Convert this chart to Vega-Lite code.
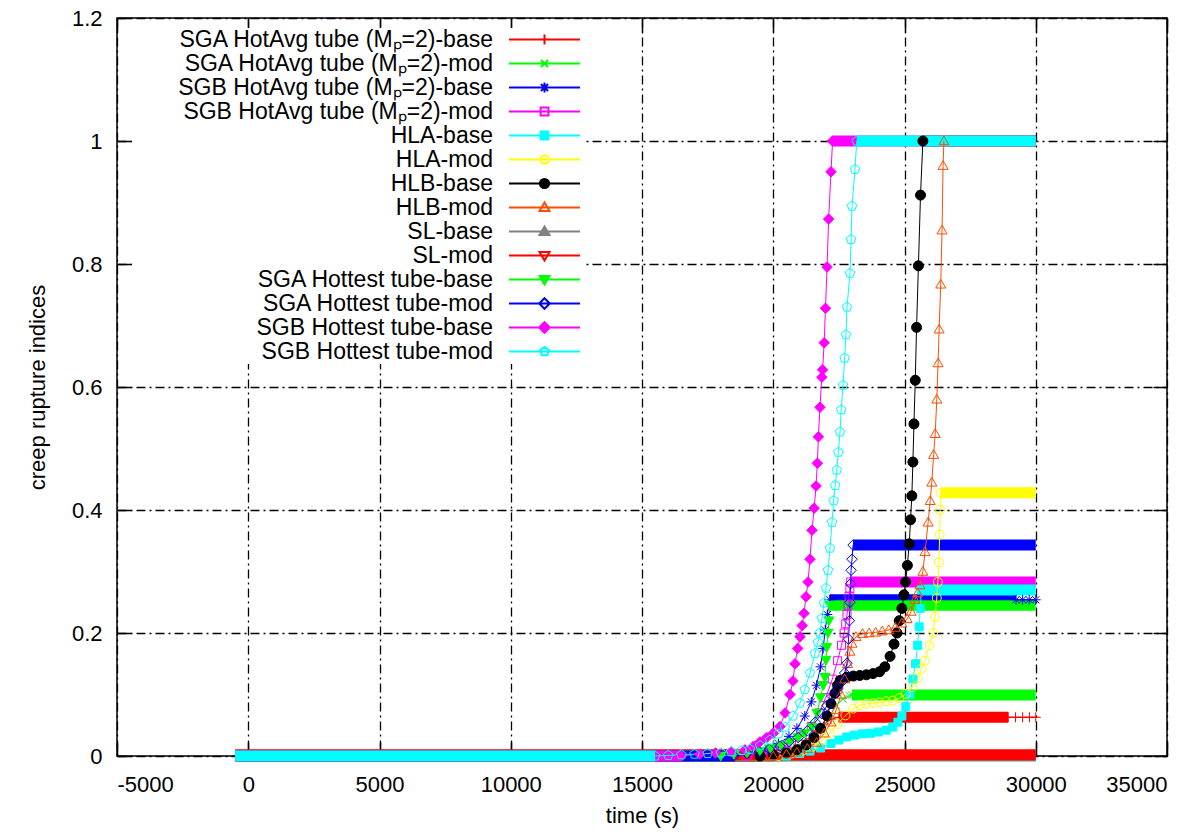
{
  "$schema": "https://vega.github.io/schema/vega-lite/v6.json",
  "width": 1050,
  "height": 738,
  "autosize": {"type": "none"},
  "padding": {"left": 117, "top": 18, "right": 37, "bottom": 76},
  "background": "white",
  "datasets": {
    "bands": [
      {"s": "SGA HotAvg tube (Mₚ=2)-base", "t0": -500, "t1": 19500, "v": 0},
      {"s": "SGA HotAvg tube (Mₚ=2)-base", "t0": 22500, "t1": 28950, "v": 0.063},
      {"s": "SGA HotAvg tube (Mₚ=2)-mod", "t0": -500, "t1": 19600, "v": 0},
      {"s": "SGA HotAvg tube (Mₚ=2)-mod", "t0": 23000, "t1": 30000, "v": 0.099},
      {"s": "SGB HotAvg tube (Mₚ=2)-base", "t0": -500, "t1": 18500, "v": 0},
      {"s": "SGB HotAvg tube (Mₚ=2)-base", "t0": 22150, "t1": 29250, "v": 0.254},
      {"s": "SGB HotAvg tube (Mₚ=2)-mod", "t0": -500, "t1": 19000, "v": 0},
      {"s": "SGB HotAvg tube (Mₚ=2)-mod", "t0": 22950, "t1": 30000, "v": 0.283},
      {"s": "HLA-base", "t0": -500, "t1": 20500, "v": 0},
      {"s": "HLA-base", "t0": 25640, "t1": 30000, "v": 0.27},
      {"s": "HLA-mod", "t0": -500, "t1": 20200, "v": 0},
      {"s": "HLA-mod", "t0": 26380, "t1": 30000, "v": 0.428},
      {"s": "HLB-base", "t0": -500, "t1": 19500, "v": 0},
      {"s": "HLB-base", "t0": 25700, "t1": 30000, "v": 1},
      {"s": "HLB-mod", "t0": -500, "t1": 20000, "v": 0},
      {"s": "HLB-mod", "t0": 26500, "t1": 30000, "v": 1},
      {"s": "SL-base", "t0": -500, "t1": 30000, "v": 0},
      {"s": "SL-mod", "t0": -500, "t1": 30000, "v": 0.002},
      {"s": "SGA Hottest tube-base", "t0": -500, "t1": 18000, "v": 0},
      {"s": "SGA Hottest tube-base", "t0": 22162, "t1": 30000, "v": 0.245},
      {"s": "SGA Hottest tube-mod", "t0": -500, "t1": 18500, "v": 0},
      {"s": "SGA Hottest tube-mod", "t0": 23040, "t1": 30000, "v": 0.343},
      {"s": "SGB Hottest tube-base", "t0": -500, "t1": 16500, "v": 0},
      {"s": "SGB Hottest tube-base", "t0": 22260, "t1": 30000, "v": 1},
      {"s": "SGB Hottest tube-mod", "t0": -500, "t1": 15500, "v": 0},
      {"s": "SGB Hottest tube-mod", "t0": 23180, "t1": 30000, "v": 1}
    ],
    "pts": [
      {"s": "SGA HotAvg tube (Mₚ=2)-base", "t": 19500, "v": 0},
      {"s": "SGA HotAvg tube (Mₚ=2)-base", "t": 20000, "v": 0.003},
      {"s": "SGA HotAvg tube (Mₚ=2)-base", "t": 20400, "v": 0.006},
      {"s": "SGA HotAvg tube (Mₚ=2)-base", "t": 20800, "v": 0.012},
      {"s": "SGA HotAvg tube (Mₚ=2)-base", "t": 21100, "v": 0.019},
      {"s": "SGA HotAvg tube (Mₚ=2)-base", "t": 21400, "v": 0.028},
      {"s": "SGA HotAvg tube (Mₚ=2)-base", "t": 21700, "v": 0.04},
      {"s": "SGA HotAvg tube (Mₚ=2)-base", "t": 21950, "v": 0.052},
      {"s": "SGA HotAvg tube (Mₚ=2)-base", "t": 22200, "v": 0.06},
      {"s": "SGA HotAvg tube (Mₚ=2)-base", "t": 22500, "v": 0.063},
      {"s": "SGA HotAvg tube (Mₚ=2)-base", "t": 28950, "v": 0.063},
      {"s": "SGA HotAvg tube (Mₚ=2)-base", "t": 29230, "v": 0.063},
      {"s": "SGA HotAvg tube (Mₚ=2)-base", "t": 29500, "v": 0.063},
      {"s": "SGA HotAvg tube (Mₚ=2)-base", "t": 29760, "v": 0.063},
      {"s": "SGA HotAvg tube (Mₚ=2)-base", "t": 30000, "v": 0.063},

      {"s": "SGA HotAvg tube (Mₚ=2)-mod", "t": 19600, "v": 0},
      {"s": "SGA HotAvg tube (Mₚ=2)-mod", "t": 20100, "v": 0.003},
      {"s": "SGA HotAvg tube (Mₚ=2)-mod", "t": 20500, "v": 0.007},
      {"s": "SGA HotAvg tube (Mₚ=2)-mod", "t": 20900, "v": 0.013},
      {"s": "SGA HotAvg tube (Mₚ=2)-mod", "t": 21300, "v": 0.022},
      {"s": "SGA HotAvg tube (Mₚ=2)-mod", "t": 21600, "v": 0.032},
      {"s": "SGA HotAvg tube (Mₚ=2)-mod", "t": 21900, "v": 0.047},
      {"s": "SGA HotAvg tube (Mₚ=2)-mod", "t": 22150, "v": 0.065},
      {"s": "SGA HotAvg tube (Mₚ=2)-mod", "t": 22400, "v": 0.082},
      {"s": "SGA HotAvg tube (Mₚ=2)-mod", "t": 22650, "v": 0.093},
      {"s": "SGA HotAvg tube (Mₚ=2)-mod", "t": 22900, "v": 0.098},
      {"s": "SGA HotAvg tube (Mₚ=2)-mod", "t": 23000, "v": 0.099},

      {"s": "SGB HotAvg tube (Mₚ=2)-base", "t": 18500, "v": 0},
      {"s": "SGB HotAvg tube (Mₚ=2)-base", "t": 19000, "v": 0.004},
      {"s": "SGB HotAvg tube (Mₚ=2)-base", "t": 19400, "v": 0.007},
      {"s": "SGB HotAvg tube (Mₚ=2)-base", "t": 19800, "v": 0.012},
      {"s": "SGB HotAvg tube (Mₚ=2)-base", "t": 20200, "v": 0.02},
      {"s": "SGB HotAvg tube (Mₚ=2)-base", "t": 20600, "v": 0.032},
      {"s": "SGB HotAvg tube (Mₚ=2)-base", "t": 20900, "v": 0.045},
      {"s": "SGB HotAvg tube (Mₚ=2)-base", "t": 21200, "v": 0.065},
      {"s": "SGB HotAvg tube (Mₚ=2)-base", "t": 21450, "v": 0.088},
      {"s": "SGB HotAvg tube (Mₚ=2)-base", "t": 21650, "v": 0.115},
      {"s": "SGB HotAvg tube (Mₚ=2)-base", "t": 21800, "v": 0.145},
      {"s": "SGB HotAvg tube (Mₚ=2)-base", "t": 21900, "v": 0.175},
      {"s": "SGB HotAvg tube (Mₚ=2)-base", "t": 21980, "v": 0.205},
      {"s": "SGB HotAvg tube (Mₚ=2)-base", "t": 22060, "v": 0.23},
      {"s": "SGB HotAvg tube (Mₚ=2)-base", "t": 22150, "v": 0.254},
      {"s": "SGB HotAvg tube (Mₚ=2)-base", "t": 29250, "v": 0.254},
      {"s": "SGB HotAvg tube (Mₚ=2)-base", "t": 29500, "v": 0.254},
      {"s": "SGB HotAvg tube (Mₚ=2)-base", "t": 29750, "v": 0.254},
      {"s": "SGB HotAvg tube (Mₚ=2)-base", "t": 30000, "v": 0.254},

      {"s": "SGB HotAvg tube (Mₚ=2)-mod", "t": 19000, "v": 0},
      {"s": "SGB HotAvg tube (Mₚ=2)-mod", "t": 19500, "v": 0.004},
      {"s": "SGB HotAvg tube (Mₚ=2)-mod", "t": 19900, "v": 0.007},
      {"s": "SGB HotAvg tube (Mₚ=2)-mod", "t": 20300, "v": 0.012},
      {"s": "SGB HotAvg tube (Mₚ=2)-mod", "t": 20700, "v": 0.02},
      {"s": "SGB HotAvg tube (Mₚ=2)-mod", "t": 21100, "v": 0.032},
      {"s": "SGB HotAvg tube (Mₚ=2)-mod", "t": 21450, "v": 0.048},
      {"s": "SGB HotAvg tube (Mₚ=2)-mod", "t": 21750, "v": 0.07},
      {"s": "SGB HotAvg tube (Mₚ=2)-mod", "t": 22000, "v": 0.095},
      {"s": "SGB HotAvg tube (Mₚ=2)-mod", "t": 22250, "v": 0.125},
      {"s": "SGB HotAvg tube (Mₚ=2)-mod", "t": 22450, "v": 0.155},
      {"s": "SGB HotAvg tube (Mₚ=2)-mod", "t": 22600, "v": 0.18},
      {"s": "SGB HotAvg tube (Mₚ=2)-mod", "t": 22700, "v": 0.2},
      {"s": "SGB HotAvg tube (Mₚ=2)-mod", "t": 22760, "v": 0.215},
      {"s": "SGB HotAvg tube (Mₚ=2)-mod", "t": 22810, "v": 0.23},
      {"s": "SGB HotAvg tube (Mₚ=2)-mod", "t": 22850, "v": 0.245},
      {"s": "SGB HotAvg tube (Mₚ=2)-mod", "t": 22890, "v": 0.26},
      {"s": "SGB HotAvg tube (Mₚ=2)-mod", "t": 22920, "v": 0.272},
      {"s": "SGB HotAvg tube (Mₚ=2)-mod", "t": 22950, "v": 0.283},

      {"s": "HLA-base", "t": 20500, "v": 0},
      {"s": "HLA-base", "t": 21000, "v": 0.004},
      {"s": "HLA-base", "t": 21400, "v": 0.008},
      {"s": "HLA-base", "t": 21800, "v": 0.013},
      {"s": "HLA-base", "t": 22200, "v": 0.02},
      {"s": "HLA-base", "t": 22500, "v": 0.026},
      {"s": "HLA-base", "t": 22800, "v": 0.031},
      {"s": "HLA-base", "t": 23100, "v": 0.034},
      {"s": "HLA-base", "t": 23400, "v": 0.036},
      {"s": "HLA-base", "t": 23700, "v": 0.037},
      {"s": "HLA-base", "t": 24000, "v": 0.039},
      {"s": "HLA-base", "t": 24300, "v": 0.042},
      {"s": "HLA-base", "t": 24550, "v": 0.047},
      {"s": "HLA-base", "t": 24750, "v": 0.055},
      {"s": "HLA-base", "t": 24900, "v": 0.065},
      {"s": "HLA-base", "t": 25050, "v": 0.08},
      {"s": "HLA-base", "t": 25200, "v": 0.1},
      {"s": "HLA-base", "t": 25320, "v": 0.125},
      {"s": "HLA-base", "t": 25420, "v": 0.15},
      {"s": "HLA-base", "t": 25500, "v": 0.18},
      {"s": "HLA-base", "t": 25560, "v": 0.21},
      {"s": "HLA-base", "t": 25600, "v": 0.24},
      {"s": "HLA-base", "t": 25640, "v": 0.27},

      {"s": "HLA-mod", "t": 20200, "v": 0},
      {"s": "HLA-mod", "t": 20700, "v": 0.004},
      {"s": "HLA-mod", "t": 21100, "v": 0.008},
      {"s": "HLA-mod", "t": 21500, "v": 0.015},
      {"s": "HLA-mod", "t": 21850, "v": 0.025},
      {"s": "HLA-mod", "t": 22150, "v": 0.037},
      {"s": "HLA-mod", "t": 22450, "v": 0.052},
      {"s": "HLA-mod", "t": 22750, "v": 0.066},
      {"s": "HLA-mod", "t": 23050, "v": 0.077},
      {"s": "HLA-mod", "t": 23300, "v": 0.083},
      {"s": "HLA-mod", "t": 23550, "v": 0.085},
      {"s": "HLA-mod", "t": 23800, "v": 0.086},
      {"s": "HLA-mod", "t": 24050, "v": 0.087},
      {"s": "HLA-mod", "t": 24300, "v": 0.089},
      {"s": "HLA-mod", "t": 24550, "v": 0.09},
      {"s": "HLA-mod", "t": 24800, "v": 0.094},
      {"s": "HLA-mod", "t": 25050, "v": 0.101},
      {"s": "HLA-mod", "t": 25300, "v": 0.112},
      {"s": "HLA-mod", "t": 25500, "v": 0.127},
      {"s": "HLA-mod", "t": 25650, "v": 0.142},
      {"s": "HLA-mod", "t": 25780, "v": 0.155},
      {"s": "HLA-mod", "t": 25950, "v": 0.18},
      {"s": "HLA-mod", "t": 26090, "v": 0.2},
      {"s": "HLA-mod", "t": 26160, "v": 0.226},
      {"s": "HLA-mod", "t": 26230, "v": 0.257},
      {"s": "HLA-mod", "t": 26270, "v": 0.283},
      {"s": "HLA-mod", "t": 26310, "v": 0.315},
      {"s": "HLA-mod", "t": 26340, "v": 0.36},
      {"s": "HLA-mod", "t": 26360, "v": 0.4},
      {"s": "HLA-mod", "t": 26380, "v": 0.428},

      {"s": "HLB-base", "t": 19500, "v": 0},
      {"s": "HLB-base", "t": 20000, "v": 0.002},
      {"s": "HLB-base", "t": 20500, "v": 0.005},
      {"s": "HLB-base", "t": 20900, "v": 0.01},
      {"s": "HLB-base", "t": 21250, "v": 0.018},
      {"s": "HLB-base", "t": 21550, "v": 0.03},
      {"s": "HLB-base", "t": 21800, "v": 0.045},
      {"s": "HLB-base", "t": 22050, "v": 0.065},
      {"s": "HLB-base", "t": 22200, "v": 0.085},
      {"s": "HLB-base", "t": 22350, "v": 0.102},
      {"s": "HLB-base", "t": 22450, "v": 0.115},
      {"s": "HLB-base", "t": 22550, "v": 0.123},
      {"s": "HLB-base", "t": 22800, "v": 0.128},
      {"s": "HLB-base", "t": 23050, "v": 0.13},
      {"s": "HLB-base", "t": 23300, "v": 0.131},
      {"s": "HLB-base", "t": 23550, "v": 0.132},
      {"s": "HLB-base", "t": 23800, "v": 0.134},
      {"s": "HLB-base", "t": 24050, "v": 0.137},
      {"s": "HLB-base", "t": 24250, "v": 0.145},
      {"s": "HLB-base", "t": 24450, "v": 0.162},
      {"s": "HLB-base", "t": 24600, "v": 0.182},
      {"s": "HLB-base", "t": 24714, "v": 0.2},
      {"s": "HLB-base", "t": 24800, "v": 0.22},
      {"s": "HLB-base", "t": 24900, "v": 0.24},
      {"s": "HLB-base", "t": 24980, "v": 0.262},
      {"s": "HLB-base", "t": 25040, "v": 0.283},
      {"s": "HLB-base", "t": 25110, "v": 0.31},
      {"s": "HLB-base", "t": 25180, "v": 0.345},
      {"s": "HLB-base", "t": 25230, "v": 0.384},
      {"s": "HLB-base", "t": 25280, "v": 0.423},
      {"s": "HLB-base", "t": 25320, "v": 0.478},
      {"s": "HLB-base", "t": 25360, "v": 0.54},
      {"s": "HLB-base", "t": 25410, "v": 0.611},
      {"s": "HLB-base", "t": 25460, "v": 0.697},
      {"s": "HLB-base", "t": 25530, "v": 0.797},
      {"s": "HLB-base", "t": 25610, "v": 0.912},
      {"s": "HLB-base", "t": 25700, "v": 1},

      {"s": "HLB-mod", "t": 20000, "v": 0},
      {"s": "HLB-mod", "t": 20500, "v": 0.003},
      {"s": "HLB-mod", "t": 20900, "v": 0.006},
      {"s": "HLB-mod", "t": 21300, "v": 0.012},
      {"s": "HLB-mod", "t": 21650, "v": 0.022},
      {"s": "HLB-mod", "t": 21950, "v": 0.037},
      {"s": "HLB-mod", "t": 22200, "v": 0.055},
      {"s": "HLB-mod", "t": 22400, "v": 0.075},
      {"s": "HLB-mod", "t": 22580, "v": 0.1},
      {"s": "HLB-mod", "t": 22720, "v": 0.125},
      {"s": "HLB-mod", "t": 22830, "v": 0.15},
      {"s": "HLB-mod", "t": 22920, "v": 0.17},
      {"s": "HLB-mod", "t": 23000, "v": 0.183},
      {"s": "HLB-mod", "t": 23150, "v": 0.194},
      {"s": "HLB-mod", "t": 23400, "v": 0.199},
      {"s": "HLB-mod", "t": 23650, "v": 0.2},
      {"s": "HLB-mod", "t": 23900, "v": 0.201},
      {"s": "HLB-mod", "t": 24150, "v": 0.203},
      {"s": "HLB-mod", "t": 24400, "v": 0.205},
      {"s": "HLB-mod", "t": 24650, "v": 0.209},
      {"s": "HLB-mod", "t": 24900, "v": 0.216},
      {"s": "HLB-mod", "t": 25100, "v": 0.223},
      {"s": "HLB-mod", "t": 25250, "v": 0.235},
      {"s": "HLB-mod", "t": 25400, "v": 0.254},
      {"s": "HLB-mod", "t": 25500, "v": 0.265},
      {"s": "HLB-mod", "t": 25590, "v": 0.278},
      {"s": "HLB-mod", "t": 25700, "v": 0.3},
      {"s": "HLB-mod", "t": 25781, "v": 0.332},
      {"s": "HLB-mod", "t": 25900, "v": 0.38},
      {"s": "HLB-mod", "t": 25980, "v": 0.415},
      {"s": "HLB-mod", "t": 26040, "v": 0.445},
      {"s": "HLB-mod", "t": 26110, "v": 0.49},
      {"s": "HLB-mod", "t": 26170, "v": 0.524},
      {"s": "HLB-mod", "t": 26230, "v": 0.58},
      {"s": "HLB-mod", "t": 26280, "v": 0.639},
      {"s": "HLB-mod", "t": 26320, "v": 0.694},
      {"s": "HLB-mod", "t": 26380, "v": 0.767},
      {"s": "HLB-mod", "t": 26430, "v": 0.855},
      {"s": "HLB-mod", "t": 26470, "v": 0.96},
      {"s": "HLB-mod", "t": 26500, "v": 1},

      {"s": "SGA Hottest tube-base", "t": 18000, "v": 0},
      {"s": "SGA Hottest tube-base", "t": 18500, "v": 0.003},
      {"s": "SGA Hottest tube-base", "t": 19000, "v": 0.005},
      {"s": "SGA Hottest tube-base", "t": 19500, "v": 0.008},
      {"s": "SGA Hottest tube-base", "t": 19900, "v": 0.012},
      {"s": "SGA Hottest tube-base", "t": 20300, "v": 0.017},
      {"s": "SGA Hottest tube-base", "t": 20650, "v": 0.023},
      {"s": "SGA Hottest tube-base", "t": 20950, "v": 0.03},
      {"s": "SGA Hottest tube-base", "t": 21200, "v": 0.037},
      {"s": "SGA Hottest tube-base", "t": 21476, "v": 0.047},
      {"s": "SGA Hottest tube-base", "t": 21667, "v": 0.07},
      {"s": "SGA Hottest tube-base", "t": 21800, "v": 0.095},
      {"s": "SGA Hottest tube-base", "t": 21900, "v": 0.115},
      {"s": "SGA Hottest tube-base", "t": 21971, "v": 0.128},
      {"s": "SGA Hottest tube-base", "t": 22010, "v": 0.156},
      {"s": "SGA Hottest tube-base", "t": 22040, "v": 0.177},
      {"s": "SGA Hottest tube-base", "t": 22086, "v": 0.2},
      {"s": "SGA Hottest tube-base", "t": 22120, "v": 0.22},
      {"s": "SGA Hottest tube-base", "t": 22162, "v": 0.245},

      {"s": "SGA Hottest tube-mod", "t": 18500, "v": 0},
      {"s": "SGA Hottest tube-mod", "t": 19000, "v": 0.004},
      {"s": "SGA Hottest tube-mod", "t": 19450, "v": 0.007},
      {"s": "SGA Hottest tube-mod", "t": 19850, "v": 0.011},
      {"s": "SGA Hottest tube-mod", "t": 20250, "v": 0.016},
      {"s": "SGA Hottest tube-mod", "t": 20600, "v": 0.023},
      {"s": "SGA Hottest tube-mod", "t": 20950, "v": 0.03},
      {"s": "SGA Hottest tube-mod", "t": 21300, "v": 0.041},
      {"s": "SGA Hottest tube-mod", "t": 21600, "v": 0.055},
      {"s": "SGA Hottest tube-mod", "t": 21850, "v": 0.069},
      {"s": "SGA Hottest tube-mod", "t": 22050, "v": 0.082},
      {"s": "SGA Hottest tube-mod", "t": 22250, "v": 0.097},
      {"s": "SGA Hottest tube-mod", "t": 22450, "v": 0.11},
      {"s": "SGA Hottest tube-mod", "t": 22600, "v": 0.12},
      {"s": "SGA Hottest tube-mod", "t": 22720, "v": 0.135},
      {"s": "SGA Hottest tube-mod", "t": 22810, "v": 0.151},
      {"s": "SGA Hottest tube-mod", "t": 22870, "v": 0.19},
      {"s": "SGA Hottest tube-mod", "t": 22900, "v": 0.22},
      {"s": "SGA Hottest tube-mod", "t": 22924, "v": 0.25},
      {"s": "SGA Hottest tube-mod", "t": 22945, "v": 0.28},
      {"s": "SGA Hottest tube-mod", "t": 22965, "v": 0.302},
      {"s": "SGA Hottest tube-mod", "t": 23000, "v": 0.32},
      {"s": "SGA Hottest tube-mod", "t": 23040, "v": 0.343},

      {"s": "SGB Hottest tube-base", "t": 16500, "v": 0},
      {"s": "SGB Hottest tube-base", "t": 17200, "v": 0.003},
      {"s": "SGB Hottest tube-base", "t": 17800, "v": 0.005},
      {"s": "SGB Hottest tube-base", "t": 18400, "v": 0.007},
      {"s": "SGB Hottest tube-base", "t": 18924, "v": 0.01},
      {"s": "SGB Hottest tube-base", "t": 19250, "v": 0.016},
      {"s": "SGB Hottest tube-base", "t": 19495, "v": 0.023},
      {"s": "SGB Hottest tube-base", "t": 19750, "v": 0.03},
      {"s": "SGB Hottest tube-base", "t": 20000, "v": 0.037},
      {"s": "SGB Hottest tube-base", "t": 20257, "v": 0.048},
      {"s": "SGB Hottest tube-base", "t": 20450, "v": 0.07},
      {"s": "SGB Hottest tube-base", "t": 20638, "v": 0.1},
      {"s": "SGB Hottest tube-base", "t": 20750, "v": 0.122},
      {"s": "SGB Hottest tube-base", "t": 20829, "v": 0.15},
      {"s": "SGB Hottest tube-base", "t": 20930, "v": 0.175},
      {"s": "SGB Hottest tube-base", "t": 21019, "v": 0.194},
      {"s": "SGB Hottest tube-base", "t": 21100, "v": 0.212},
      {"s": "SGB Hottest tube-base", "t": 21171, "v": 0.232},
      {"s": "SGB Hottest tube-base", "t": 21248, "v": 0.259},
      {"s": "SGB Hottest tube-base", "t": 21324, "v": 0.283},
      {"s": "SGB Hottest tube-base", "t": 21400, "v": 0.32},
      {"s": "SGB Hottest tube-base", "t": 21476, "v": 0.367},
      {"s": "SGB Hottest tube-base", "t": 21560, "v": 0.403},
      {"s": "SGB Hottest tube-base", "t": 21630, "v": 0.439},
      {"s": "SGB Hottest tube-base", "t": 21680, "v": 0.476},
      {"s": "SGB Hottest tube-base", "t": 21720, "v": 0.519},
      {"s": "SGB Hottest tube-base", "t": 21780, "v": 0.567},
      {"s": "SGB Hottest tube-base", "t": 21850, "v": 0.616},
      {"s": "SGB Hottest tube-base", "t": 21880, "v": 0.628},
      {"s": "SGB Hottest tube-base", "t": 21940, "v": 0.672},
      {"s": "SGB Hottest tube-base", "t": 21990, "v": 0.728},
      {"s": "SGB Hottest tube-base", "t": 22050, "v": 0.795},
      {"s": "SGB Hottest tube-base", "t": 22110, "v": 0.873},
      {"s": "SGB Hottest tube-base", "t": 22200, "v": 0.95},
      {"s": "SGB Hottest tube-base", "t": 22260, "v": 1},

      {"s": "SGB Hottest tube-mod", "t": 15500, "v": 0},
      {"s": "SGB Hottest tube-mod", "t": 16000, "v": 0.001},
      {"s": "SGB Hottest tube-mod", "t": 16500, "v": 0.002},
      {"s": "SGB Hottest tube-mod", "t": 17000, "v": 0.003},
      {"s": "SGB Hottest tube-mod", "t": 17500, "v": 0.004},
      {"s": "SGB Hottest tube-mod", "t": 18000, "v": 0.005},
      {"s": "SGB Hottest tube-mod", "t": 18400, "v": 0.007},
      {"s": "SGB Hottest tube-mod", "t": 18800, "v": 0.009},
      {"s": "SGB Hottest tube-mod", "t": 19114, "v": 0.011},
      {"s": "SGB Hottest tube-mod", "t": 19500, "v": 0.017},
      {"s": "SGB Hottest tube-mod", "t": 19876, "v": 0.026},
      {"s": "SGB Hottest tube-mod", "t": 20200, "v": 0.036},
      {"s": "SGB Hottest tube-mod", "t": 20448, "v": 0.047},
      {"s": "SGB Hottest tube-mod", "t": 20750, "v": 0.065},
      {"s": "SGB Hottest tube-mod", "t": 21019, "v": 0.086},
      {"s": "SGB Hottest tube-mod", "t": 21200, "v": 0.108},
      {"s": "SGB Hottest tube-mod", "t": 21400, "v": 0.135},
      {"s": "SGB Hottest tube-mod", "t": 21590, "v": 0.167},
      {"s": "SGB Hottest tube-mod", "t": 21700, "v": 0.185},
      {"s": "SGB Hottest tube-mod", "t": 21781, "v": 0.2},
      {"s": "SGB Hottest tube-mod", "t": 21857, "v": 0.224},
      {"s": "SGB Hottest tube-mod", "t": 21933, "v": 0.249},
      {"s": "SGB Hottest tube-mod", "t": 22010, "v": 0.273},
      {"s": "SGB Hottest tube-mod", "t": 22086, "v": 0.302},
      {"s": "SGB Hottest tube-mod", "t": 22162, "v": 0.338},
      {"s": "SGB Hottest tube-mod", "t": 22238, "v": 0.38},
      {"s": "SGB Hottest tube-mod", "t": 22300, "v": 0.415},
      {"s": "SGB Hottest tube-mod", "t": 22360, "v": 0.44},
      {"s": "SGB Hottest tube-mod", "t": 22420, "v": 0.465},
      {"s": "SGB Hottest tube-mod", "t": 22480, "v": 0.494},
      {"s": "SGB Hottest tube-mod", "t": 22543, "v": 0.527},
      {"s": "SGB Hottest tube-mod", "t": 22590, "v": 0.563},
      {"s": "SGB Hottest tube-mod", "t": 22657, "v": 0.603},
      {"s": "SGB Hottest tube-mod", "t": 22720, "v": 0.647},
      {"s": "SGB Hottest tube-mod", "t": 22770, "v": 0.685},
      {"s": "SGB Hottest tube-mod", "t": 22810, "v": 0.73},
      {"s": "SGB Hottest tube-mod", "t": 22924, "v": 0.785},
      {"s": "SGB Hottest tube-mod", "t": 22965, "v": 0.84},
      {"s": "SGB Hottest tube-mod", "t": 23000, "v": 0.894},
      {"s": "SGB Hottest tube-mod", "t": 23114, "v": 0.954},
      {"s": "SGB Hottest tube-mod", "t": 23180, "v": 1}
    ]
  },
  "config": {
    "font": "Liberation Sans",
    "view": {"stroke": "black", "strokeWidth": 1.5},
    "legend": {
      "orient": "none", "legendX": 15, "legendY": 10, "padding": 0, "fillColor": "white",
      "labelFont": "Liberation Sans", "labelFontSize": 23, "labelColor": "black", "labelLimit": 600,
      "symbolSize": 5041, "symbolStrokeWidth": 2, "rowPadding": -0.5
    },
    "axis": {
      "labelFont": "Liberation Sans",
      "labelFontSize": 22,
      "labelColor": "black",
      "titleFont": "Liberation Sans",
      "titleFontSize": 22,
      "titleFontWeight": "normal",
      "titleColor": "black",
      "domain": false,
      "tickColor": "black",
      "tickWidth": 1.5,
      "gridColor": "black",
      "gridOpacity": 1,
      "gridWidth": 1.3,
      "gridDash": [9, 4, 2, 4]
    }
  },
  "resolve": {"axis": {"x": "independent", "y": "independent"}},
  "layer": [
    {
      "data": {"name": "bands"},
      "mark": {"type": "rule", "strokeWidth": 11, "strokeCap": "butt"},
      "encoding": {
        "x": {
          "field": "t0", "type": "quantitative",
          "scale": {"domain": [-5000, 35000], "nice": false, "zero": false},
          "axis": {
            "title": "time (s)", "orient": "bottom",
            "values": [-5000, 0, 5000, 10000, 15000, 20000, 25000, 30000, 35000],
            "labelExpr": "'' + datum.value",
            "grid": true, "tickSize": -14, "labelPadding": 32, "titlePadding": 10
          }
        },
        "x2": {"field": "t1"},
        "y": {
          "field": "v", "type": "quantitative",
          "scale": {"domain": [0, 1.2], "nice": false, "zero": false},
          "axis": {
            "title": "creep rupture indices", "orient": "left",
            "values": [0, 0.2, 0.4, 0.6, 0.8, 1, 1.2],
            "labelExpr": "'' + datum.value",
            "grid": true, "tickSize": -14, "labelPadding": 29, "titlePadding": 22
          }
        },
        "stroke": {
          "field": "s", "type": "nominal",
          "scale": {
            "domain": ["SGA HotAvg tube (Mₚ=2)-base", "SGA HotAvg tube (Mₚ=2)-mod", "SGB HotAvg tube (Mₚ=2)-base", "SGB HotAvg tube (Mₚ=2)-mod", "HLA-base", "HLA-mod", "HLB-base", "HLB-mod", "SL-base", "SL-mod", "SGA Hottest tube-base", "SGA Hottest tube-mod", "SGB Hottest tube-base", "SGB Hottest tube-mod"],
            "range": ["#ff0000", "#00ff00", "#0000ff", "#ff00ff", "#00ffff", "#ffff00", "#000000", "#ff4d00", "#808080", "#ff0000", "#00ff00", "#0000ff", "#ff00ff", "#00ffff"]
          },
          "legend": {
            "title": null, "orient": "none", "legendX": 15, "legendY": 10,
            "encode": {
              "symbols": {"update": {
                "x": {"value": 412.5},
                "y": {"value": 11.5},
                "size": {"value": 5041},
                "strokeWidth": {"value": 2},
                "opacity": {"value": 1},
                "fill": {"signal": "['transparent','transparent','transparent','transparent','#00ffff','transparent','#000000','transparent','#808080','transparent','#00ff00','transparent','#ff00ff','transparent'][datum.index]"},
                "shape": {"signal": "['M-1,0H1M-0.14,0H0.14M0,-0.14V0.14','M-1,0H1M-0.1,-0.1L0.1,0.1M-0.1,0.1L0.1,-0.1','M-1,0H1M0,-0.14V0.14M-0.1,-0.1L0.1,0.1M-0.1,0.1L0.1,-0.1','M-1,0H1M-0.11,-0.11H0.11V0.11H-0.11Z','M-1,0H1M-0.11,-0.11H0.11V0.11H-0.11Z','M-1,0H1M-0.12,0A0.12,0.12,0,1,1,0.12,0A0.12,0.12,0,1,1,-0.12,0Z','M-1,0H1M-0.13,0A0.13,0.13,0,1,1,0.13,0A0.13,0.13,0,1,1,-0.13,0Z','M-1,0H1M0,-0.14L0.14,0.1H-0.14Z','M-1,0H1M0,-0.14L0.14,0.1H-0.14Z','M-1,0H1M0,0.14L0.14,-0.1H-0.14Z','M-1,0H1M0,0.14L0.14,-0.1H-0.14Z','M-1,0H1M0,-0.15L0.15,0L0,0.15L-0.15,0Z','M-1,0H1M0,-0.15L0.15,0L0,0.15L-0.15,0Z','M-1,0H1M0,-0.13L0.124,-0.04L0.077,0.105L-0.077,0.105L-0.124,-0.04Z'][datum.index]"}
              }},
              "labels": {"update": {"x": {"value": 361}, "y": {"value": 11.5}, "align": {"value": "right"}, "baseline": {"value": "middle"}}}
            }
          }
        }
      }
    },
    {
      "data": {"name": "pts"},
      "mark": {"type": "line", "strokeWidth": 1},
      "encoding": {
        "x": {
          "field": "t", "type": "quantitative",
          "axis": {
            "orient": "top", "title": null, "labels": false, "grid": false, "tickSize": -14,
            "values": [-5000, 0, 5000, 10000, 15000, 20000, 25000, 30000, 35000]
          }
        },
        "y": {
          "field": "v", "type": "quantitative",
          "axis": {
            "orient": "right", "title": null, "labels": false, "grid": false, "tickSize": -14,
            "values": [0, 0.2, 0.4, 0.6, 0.8, 1, 1.2]
          }
        },
        "stroke": {"field": "s", "type": "nominal"}
      }
    },
    {
      "data": {"name": "pts"},
      "mark": {"type": "point", "size": 100, "strokeWidth": 1, "opacity": 1},
      "encoding": {
        "x": {"field": "t", "type": "quantitative", "axis": null},
        "y": {"field": "v", "type": "quantitative", "axis": null},
        "stroke": {"field": "s", "type": "nominal"},
        "fill": {
          "field": "s", "type": "nominal", "legend": null,
          "scale": {
            "domain": ["SGB Hottest tube-mod", "SGB Hottest tube-base", "SGA Hottest tube-mod", "SGA Hottest tube-base", "SL-mod", "SL-base", "HLB-mod", "HLB-base", "HLA-mod", "HLA-base", "SGB HotAvg tube (Mₚ=2)-mod", "SGB HotAvg tube (Mₚ=2)-base", "SGA HotAvg tube (Mₚ=2)-mod", "SGA HotAvg tube (Mₚ=2)-base"],
            "range": ["transparent", "#ff00ff", "transparent", "#00ff00", "transparent", "#808080", "transparent", "#000000", "transparent", "#00ffff", "transparent", "transparent", "transparent", "transparent"]
          }
        },
        "shape": {
          "field": "s", "type": "nominal", "legend": null,
          "scale": {
            "domain": ["SGB Hottest tube-mod", "SGB Hottest tube-base", "SGA Hottest tube-mod", "SGA Hottest tube-base", "SL-mod", "SL-base", "HLB-mod", "HLB-base", "HLA-mod", "HLA-base", "SGB HotAvg tube (Mₚ=2)-mod", "SGB HotAvg tube (Mₚ=2)-base", "SGA HotAvg tube (Mₚ=2)-mod", "SGA HotAvg tube (Mₚ=2)-base"],
            "range": ["M0,-1L0.95,-0.31L0.59,0.81L-0.59,0.81L-0.95,-0.31Z", "M0,-1.05L1.05,0L0,1.05L-1.05,0Z", "M0,-1.05L1.05,0L0,1.05L-1.05,0Z", "M0,1L1,-0.75H-1Z", "M0,1L1,-0.75H-1Z", "M0,-1L1,0.75H-1Z", "M0,-1L1,0.75H-1Z", "M-1,0A1,1,0,1,1,1,0A1,1,0,1,1,-1,0Z", "M-0.9,0A0.9,0.9,0,1,1,0.9,0A0.9,0.9,0,1,1,-0.9,0Z", "M-0.8,-0.8H0.8V0.8H-0.8Z", "M-0.8,-0.8H0.8V0.8H-0.8Z", "M-1,0H1M0,-1V1M-0.7,-0.7L0.7,0.7M-0.7,0.7L0.7,-0.7", "M-0.75,-0.75L0.75,0.75M-0.75,0.75L0.75,-0.75", "M-1,0H1M0,-1V1"]
          }
        }
      }
    },
    {
      "mark": {"type": "rule", "color": "black", "strokeWidth": 1.5},
      "encoding": {
        "y": {"datum": 0, "type": "quantitative", "axis": null}
      }
    }
  ]
}
